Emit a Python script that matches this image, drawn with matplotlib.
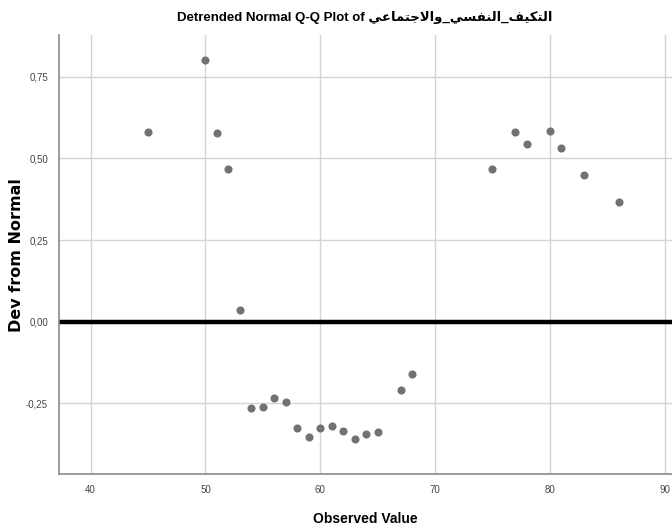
import matplotlib
matplotlib.use('Agg')
from matplotlib import pyplot as plt

# observed values and their deviation from the normal line
observed = [45, 50, 51, 52, 53, 54, 55, 56, 57, 58, 59, 60, 61, 62, 63, 64, 65,
            67, 68, 75, 77, 78, 80, 81, 83, 86]
deviation = [0.580, 0.800, 0.578, 0.467, 0.037, -0.263, -0.260, -0.233, -0.245,
             -0.326, -0.352, -0.324, -0.318, -0.335, -0.358, -0.344, -0.338,
             -0.208, -0.159, 0.468, 0.580, 0.545, 0.583, 0.531, 0.450, 0.367]

x_ticks = [40, 50, 60, 70, 80, 90]
y_ticks = [-0.25, 0.0, 0.25, 0.50, 0.75]
y_tick_labels = ['-0,25', '0,00', '0,25', '0,50', '0,75']

var_name = 'التكيف_النفسي_والاجتماعي'

# Arabic presentation forms: isolated, final, initial, medial
FORMS = {
    'ا': ('\uFE8D', '\uFE8E', None, None),
    'و': ('\uFEED', '\uFEEE', None, None),
    'ل': ('\uFEDD', '\uFEDE', '\uFEDF', '\uFEE0'),
    'ت': ('\uFE95', '\uFE96', '\uFE97', '\uFE98'),
    'ك': ('\uFED9', '\uFEDA', '\uFEDB', '\uFEDC'),
    'ي': ('\uFEF1', '\uFEF2', '\uFEF3', '\uFEF4'),
    'ف': ('\uFED1', '\uFED2', '\uFED3', '\uFED4'),
    'ن': ('\uFEE5', '\uFEE6', '\uFEE7', '\uFEE8'),
    'س': ('\uFEB1', '\uFEB2', '\uFEB3', '\uFEB4'),
    'ج': ('\uFE9D', '\uFE9E', '\uFE9F', '\uFEA0'),
    'م': ('\uFEE1', '\uFEE2', '\uFEE3', '\uFEE4'),
    'ع': ('\uFEC9', '\uFECA', '\uFECB', '\uFECC'),
}


def shape_arabic(text):
    # join lam + alef first
    chars = []
    i = 0
    while i < len(text):
        if text[i] == 'ل' and i + 1 < len(text) and text[i + 1] == 'ا':
            chars.append('LA')
            i += 2
        else:
            chars.append(text[i])
            i += 1

    def joins_left(c):
        return c in FORMS and FORMS[c][2] is not None

    def joins_right(c):
        return c in FORMS or c == 'LA'

    out = []
    for k, c in enumerate(chars):
        prev_joins = k > 0 and joins_left(chars[k - 1])
        if c == 'LA':
            out.append('\uFEFC' if prev_joins else '\uFEFB')
            continue
        if c not in FORMS:
            out.append(c)
            continue
        nxt = chars[k + 1] if k + 1 < len(chars) else None
        next_joins = joins_left(c) and nxt is not None and joins_right(nxt)
        iso, fin, ini, med = FORMS[c]
        if prev_joins and next_joins:
            out.append(med)
        elif prev_joins:
            out.append(fin)
        elif next_joins:
            out.append(ini)
        else:
            out.append(iso)
    return ''.join(reversed(out))


sans = ['Liberation Sans', 'DejaVu Sans']

fig = plt.figure(figsize=(6.72, 5.32), dpi=100)
ax = fig.add_axes([0.0878, 0.109, 0.9122, 0.825])

ax.scatter(observed, deviation, s=34, color='#727272', zorder=3, linewidths=0)
ax.axhline(y=0, color='black', linewidth=3.2, zorder=2)

ax.set_xlim(37.24, 90.64)
ax.set_ylim(-0.466, 0.877)
ax.set_xticks(x_ticks)
ax.set_xticklabels([str(v) for v in x_ticks], family=sans, fontsize=7, color='#444444')
ax.set_yticks(y_ticks)
ax.set_yticklabels(y_tick_labels, family=sans, fontsize=7, color='#444444')
ax.tick_params(length=0, pad=8)

ax.grid(True, color='#d4d4d4', linewidth=1)
ax.set_axisbelow(True)
for side in ['top', 'right']:
    ax.spines[side].set_visible(False)
for side in ['left', 'bottom']:
    ax.spines[side].set_color('#8a8a8a')
    ax.spines[side].set_linewidth(1.2)

# titles placed in figure coordinates
fig.text(0.543, 0.968, 'Detrended Normal Q-Q Plot of ' + shape_arabic(var_name),
         family=sans, fontweight='bold', fontsize=9.5, ha='center', va='center')
fig.text(0.543, 0.025, 'Observed Value', family=sans, fontweight='bold',
         fontsize=10, ha='center', va='center')
fig.text(0.024, 0.52, 'Dev from Normal', family='DejaVu Sans', fontweight='bold',
         fontsize=11.5, ha='center', va='center', rotation=90)

fig.savefig('out.png', dpi=100)
